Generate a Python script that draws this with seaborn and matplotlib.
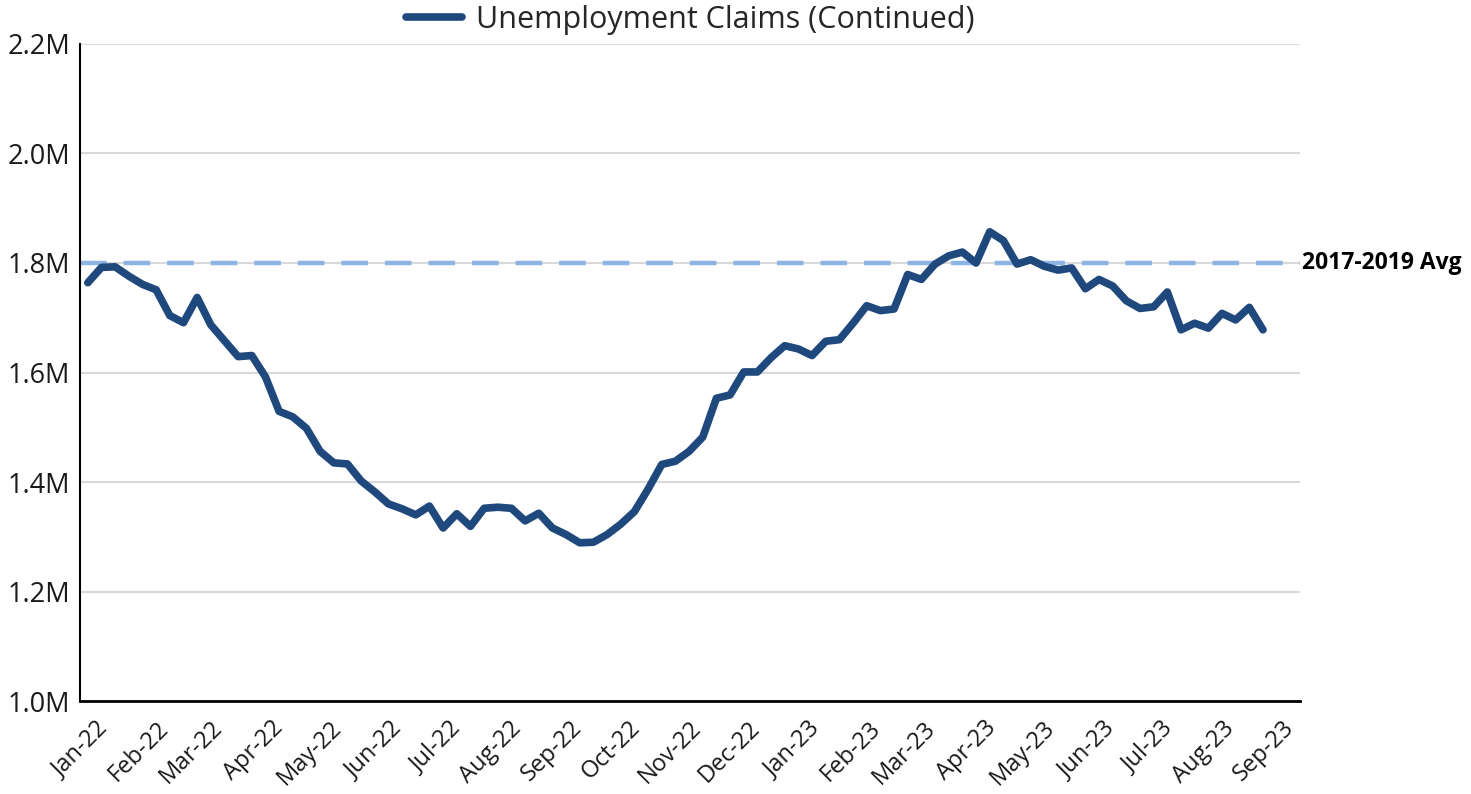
import pandas as pd
import matplotlib
matplotlib.use("Agg")
import matplotlib.pyplot as plt
import matplotlib.dates as mdates
from matplotlib.ticker import FuncFormatter
import seaborn as sns

# weekly continued claims, millions
start_date = "2021-12-28"
claims_m = [
    1.764, 1.792, 1.793, 1.776, 1.761, 1.751, 1.704, 1.691, 1.737, 1.687,
    1.658, 1.629, 1.631, 1.592, 1.529, 1.519, 1.498, 1.456, 1.435, 1.433,
    1.402, 1.382, 1.360, 1.351, 1.340, 1.356, 1.316, 1.342, 1.319, 1.352,
    1.354, 1.352, 1.329, 1.343, 1.316, 1.304, 1.289, 1.290, 1.304, 1.323,
    1.346, 1.387, 1.432, 1.438, 1.456, 1.482, 1.553, 1.559, 1.601, 1.601,
    1.627, 1.649, 1.643, 1.631, 1.657, 1.660, 1.690, 1.722, 1.713, 1.716,
    1.779, 1.770, 1.798, 1.813, 1.820, 1.800, 1.857, 1.841, 1.798, 1.806,
    1.794, 1.787, 1.791, 1.753, 1.770, 1.758, 1.731, 1.717, 1.720, 1.747,
    1.678, 1.690, 1.681, 1.708, 1.696, 1.719, 1.678,
]
avg_2017_2019 = 1.8e6
avg_label = "2017-2019 Avg"
series_label = "Unemployment Claims (Continued)"
y_ticks = [1.0e6, 1.2e6, 1.4e6, 1.6e6, 1.8e6, 2.0e6, 2.2e6]

df = pd.DataFrame({
    "week": pd.date_range(start_date, periods=len(claims_m), freq="7D"),
    "claims": [v * 1e6 for v in claims_m],
})

sns.set_style("white")
plt.rcParams["font.family"] = ["Open Sans", "DejaVu Sans"]

fig = plt.figure(figsize=(14.71, 7.94), dpi=100)
ax = fig.add_axes([0.0544, 0.1171, 0.8294, 0.8275])

for y in y_ticks:
    ax.axhline(y, color="#d9d9d9", lw=1.5, zorder=0)
ax.axhline(avg_2017_2019, color="#8db4e2", lw=3.2, ls=(0, (6, 3.8)), zorder=1)

sns.lineplot(data=df, x="week", y="claims", ax=ax, color="#1f497d", lw=5.5,
             label=series_label, solid_joinstyle="round",
             solid_capstyle="round", zorder=3)

ax.set_ylim(1.0e6, 2.2e6)
ax.set_yticks(y_ticks)
ax.yaxis.set_major_formatter(FuncFormatter(lambda v, p: f"{v/1e6:.1f}M"))
ax.set_xlim(pd.Timestamp("2021-12-24"), pd.Timestamp("2023-09-10"))
ax.xaxis.set_major_locator(mdates.MonthLocator())
ax.xaxis.set_major_formatter(mdates.DateFormatter("%b-%y"))
ax.set_xlabel("")
ax.set_ylabel("")

for lab in ax.get_xticklabels():
    lab.set_rotation(45)
    lab.set_ha("right")
    lab.set_rotation_mode("anchor")
ax.tick_params(axis="x", labelsize=17, length=7, width=1.5, color="#7f7f7f",
               pad=4, labelcolor="#1a1a1a")
ax.tick_params(axis="y", labelsize=19.5, length=6, width=1.5, color="#7f7f7f",
               pad=1, labelcolor="#1a1a1a")

for s in ["top", "right"]:
    ax.spines[s].set_visible(False)
ax.spines["left"].set_color("black")
ax.spines["left"].set_linewidth(1.5)
ax.spines["bottom"].set_color("black")
ax.spines["bottom"].set_linewidth(2)

ax.text(1.0015, avg_2017_2019, avg_label, transform=ax.get_yaxis_transform(),
        ha="left", va="center", fontsize=16.5, fontweight="bold", color="black")

ax.legend(loc="lower center", bbox_to_anchor=(0.5, 1.005), frameon=False,
          fontsize=22, handlelength=1.85, handletextpad=0.45,
          borderaxespad=0.0, borderpad=0.2)

fig.savefig("out.png", dpi=100)
